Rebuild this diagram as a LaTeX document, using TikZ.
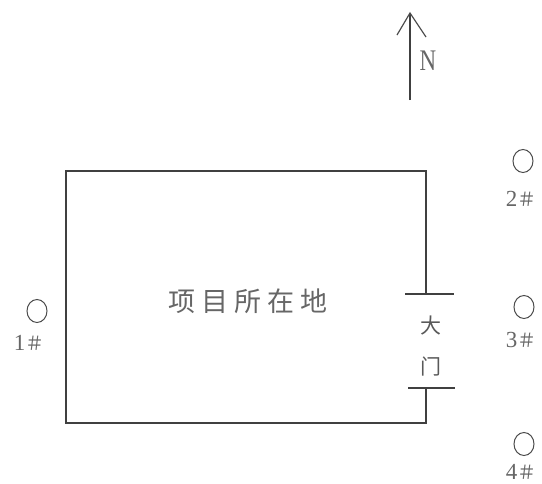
\documentclass[tikz,border=0pt]{standalone}
\usepackage{fontspec}
\usetikzlibrary{shapes.geometric}
\setmainfont{Liberation Serif}
\newfontfamily\cjk{Noto Sans CJK SC}
\newfontfamily\cjkwide[LetterSpace=22]{Noto Sans CJK SC}
\newcommand{\wellno}[1]{#1{\cjk\fontsize{19}{19}\selectfont ＃}}
\begin{document}
\begin{tikzpicture}[x=1pt,y=-1pt,
  wall/.style={draw=black!75,line width=1.6pt},
  well/.style={draw=black!70,line width=1pt,ellipse,inner sep=0pt,minimum width=20pt,minimum height=23pt},
  lbl/.style={text=black!60,font=\fontsize{23}{23}\selectfont,inner sep=0pt},
  gatelbl/.style={text=black!65,font=\cjk\fontsize{21}{21}\selectfont,inner sep=0pt}]
\useasboundingbox (0,0) rectangle (542,483);
% site outline
\coordinate (gt) at (426,294);
\coordinate (gb) at (426,388);
\coordinate (tr) at (426,171);
\coordinate (tl) at (66,171);
\coordinate (bl) at (66,423);
\coordinate (br) at (426,423);
\draw[wall] (gt) -- (tr) -- (tl) -- (bl) -- (br) -- (gb);
\coordinate (gtl) at (405,294);
\coordinate (gtr) at (454,294);
\coordinate (gbl) at (408,388);
\coordinate (gbr) at (455,388);
\draw[wall] (gtl) -- (gtr);
\draw[wall] (gbl) -- (gbr);
\node[gatelbl] (da) at (431,326) {大};
\node[gatelbl] (men) at (431,367) {门};
\node[text=black!60,font=\cjkwide\fontsize{27}{27}\selectfont,inner sep=0pt] (site) at (248,301) {项目所在地};
% north arrow
\coordinate (nb) at (410,100);
\coordinate (nt) at (410,13);
\coordinate (nl) at (397,35);
\coordinate (nr) at (426,37);
\draw[draw=black!75,line width=1.3pt] (nb) -- (nt);
\draw[draw=black!70,line width=1.2pt] (nl) -- (nt) -- (nr);
\node[lbl] (N) at (428,61) {\scalebox{1}[1.3]{N}};
% wells
\node[well] (w1) at (37,311) {};
\node[lbl] (l1) at (29,343) {\wellno{1}};
\node[well] (w2) at (523,161) {};
\node[lbl] (l2) at (521,199) {\wellno{2}};
\node[well] (w3) at (524,307) {};
\node[lbl] (l3) at (521,340) {\wellno{3}};
\node[well] (w4) at (524,444) {};
\node[lbl] (l4) at (521,472) {\wellno{4}};
\end{tikzpicture}
\end{document}
